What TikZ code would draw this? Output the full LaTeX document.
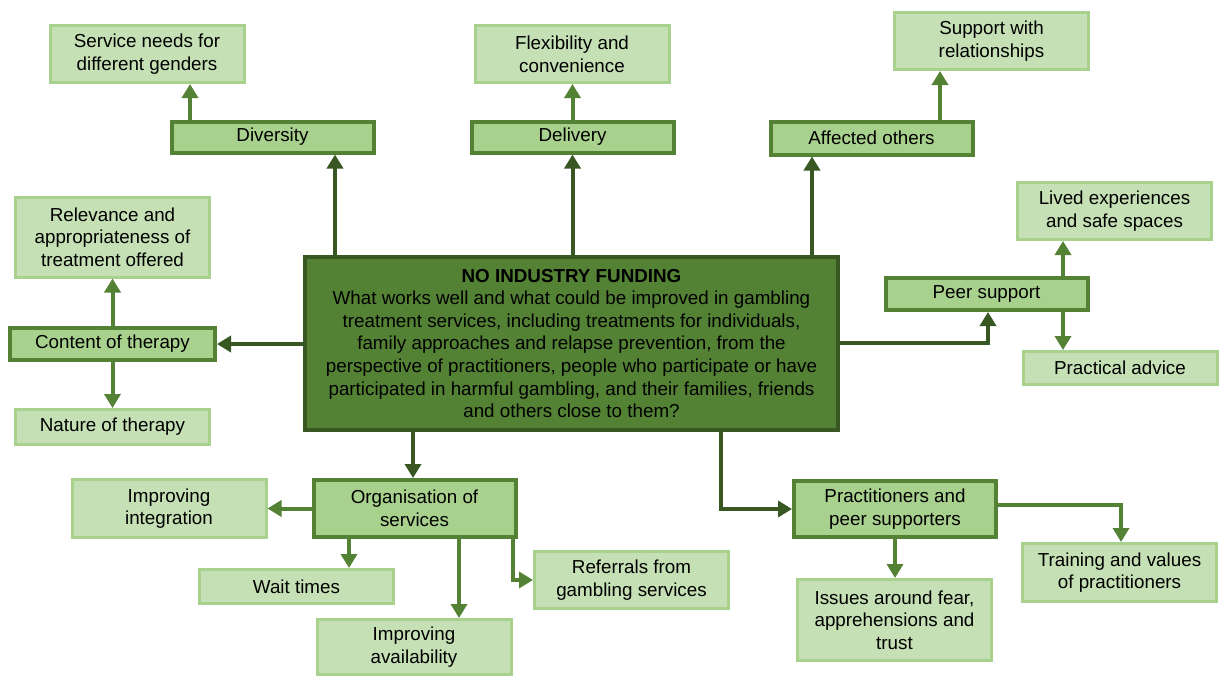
\documentclass[tikz,border=0pt]{standalone}
\usepackage{fontspec}
\setmainfont{Liberation Sans}
\usetikzlibrary{arrows.meta}
\definecolor{topfill}{HTML}{548235}
\definecolor{topline}{HTML}{385723}
\definecolor{midfill}{HTML}{A9D18E}
\definecolor{midline}{HTML}{548235}
\definecolor{leaffill}{HTML}{C5E0B4}
\definecolor{leafline}{HTML}{A9D18E}
\begin{document}
\begin{tikzpicture}[x=0.5pt,y=-0.5pt,
    every node/.style={align=center,inner sep=1pt,font=\fontsize{9.4}{11.3}\selectfont},
    topbox/.style={draw=topline,fill=topfill,line width=2pt,minimum width=266.5pt,minimum height=86.5pt},
    midbox/.style={draw=midline,fill=midfill,line width=2pt,minimum width=101pt,minimum height=#1},
    leafbox/.style={draw=leafline,fill=leaffill,line width=1.5pt,minimum width=97pt,minimum height=#1},
    darr/.style={draw=topline,line width=2pt,-{Triangle[length=7pt,width=8pt]}},
    marr/.style={draw=midline,line width=2pt,-{Triangle[length=7pt,width=8pt]}}]
    \useasboundingbox (0,0) rectangle (1224,675);
    \node[topbox] (main) at (571.5,343.5) {\textbf{NO INDUSTRY FUNDING}\\What works well and what could be improved in gambling\\treatment services, including treatments for individuals,\\family approaches and relapse prevention, from the\\perspective of practitioners, people who participate or have\\participated in harmful gambling, and their families, friends\\and others close to them?};
    \node[midbox=15.5pt] (div) at (272.5,137) {Diversity};
    \node[leafbox=28.5pt] (gend) at (147,54) {Service needs for\\different genders};
    \node[midbox=15.5pt] (deliv) at (572.5,137) {Delivery};
    \node[leafbox=28.5pt] (flex) at (572,54) {Flexibility and\\convenience};
    \node[midbox=16.5pt] (affect) at (871.5,138) {Affected others};
    \node[leafbox=28.5pt] (rel) at (991.5,41) {Support with\\relationships};
    \node[midbox=16pt,minimum width=102.5pt] (content) at (112.5,344) {Content of therapy};
    \node[leafbox=40pt] (relev) at (112.5,237) {Relevance and\\appropriateness of\\treatment offered};
    \node[leafbox=17.5pt] (nature) at (112.5,427) {Nature of therapy};
    \node[midbox=16pt] (peer) at (986.5,294) {Peer support};
    \node[leafbox=28.5pt] (lived) at (1114.5,211) {Lived experiences\\and safe spaces};
    \node[leafbox=16.5pt] (pract) at (1120,368) {Practical advice};
    \node[midbox=28.5pt] (org) at (414.5,508.5) {Organisation of\\services};
    \node[leafbox=29pt] (integ) at (169,508.5) {Improving\\integration};
    \node[leafbox=17pt] (wait) at (296.5,586.5) {Wait times};
    \node[leafbox=27.5pt] (avail) at (414,647) {Improving\\availability};
    \node[leafbox=28.5pt] (refer) at (631.5,580) {Referrals from\\gambling services};
    \node[midbox=28pt] (prac) at (895,509) {Practitioners and\\peer supporters};
    \node[leafbox=29pt] (train) at (1119.5,572.5) {Training and values\\of practitioners};
    \node[leafbox=40.5pt] (issues) at (894.5,620) {Issues around fear,\\apprehensions and\\trust};
    \draw[darr] (main.north -| 335,0) -- (div.south -| 335,0);
    \draw[marr] (div.north -| 190,0) -- (gend.south -| 190,0);
    \draw[darr] (main.north -| deliv) -- (deliv.south);
    \draw[marr] (deliv.north) -- (flex.south -| deliv.north);
    \draw[darr] (main.north -| 812,0) -- (affect.south -| 812,0);
    \draw[marr] (affect.north -| 940,0) -- (rel.south -| 940,0);
    \draw[darr] (main.west |- content) -- (content.east);
    \draw[marr] (content.north) -- (relev.south);
    \draw[marr] (content.south) -- (nature.north);
    \draw[darr] (main.east |- 0,343) -| (peer.south -| 988,0);
    \draw[marr] (peer.north -| 1063,0) -- (lived.south -| 1063,0);
    \draw[marr] (peer.south -| 1063,0) -- (pract.north -| 1063,0);
    \draw[darr] (main.south -| 413,0) -- (org.north -| 413,0);
    \draw[darr] (main.south -| 721,0) |- (prac.west);
    \draw[marr] (org.west) -- (integ.east);
    \draw[marr] (org.south -| 349,0) -- (wait.north -| 349,0);
    \draw[marr] (org.south -| 459,0) -- (avail.north -| 459,0);
    \draw[marr] (org.south -| 513,0) |- (refer.west);
    \draw[marr] (prac.south) -- (issues.north -| prac.south);
    \draw[marr] (prac.east |- 0,505) -| (train.north -| 1121,0);
\end{tikzpicture}
\end{document}
